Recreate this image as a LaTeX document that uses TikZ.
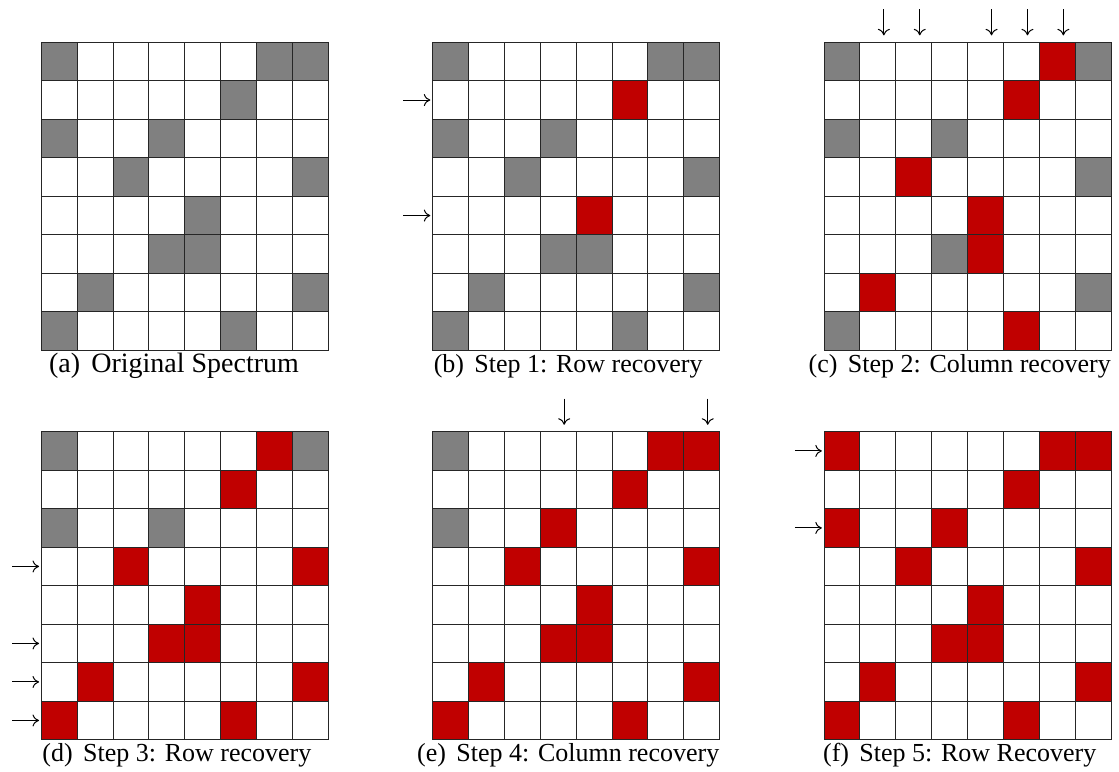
\documentclass[tikz,border=0pt]{standalone}
\usepackage{fontspec}
\setmainfont{Liberation Serif}
\usetikzlibrary{arrows.meta}
\definecolor{cellgray}{RGB}{128,128,128}
\definecolor{cellred}{RGB}{192,0,0}
\tikzset{
  gridline/.style={line width=1pt, draw=black!85, line cap=rect},
  graycell/.style={fill=cellgray},
  redcell/.style={fill=cellred},
  marker/.style={line width=1pt, -{Computer Modern Rightarrow[length=6.5pt,width=12pt]}},
  caption/.style={anchor=base, font=\fontsize{26}{30}\selectfont, inner sep=0pt},
  bigcaption/.style={anchor=base, font=\fontsize{28}{32}\selectfont, inner sep=0pt},
  gridscope/.style={x=35.9pt, y=-38.5pt},
}
\newcommand\cells[2]{\foreach \cc/\rr in {#2} {\fill[#1] (\cc,\rr) rectangle ++(1,1);}}
\newcommand\gridlines{\foreach \ii in {0,...,8} {\draw[gridline] (\ii,0) -- (\ii,8); \draw[gridline] (0,\ii) -- (8,\ii);}}
\newcommand\rowarrow[2]{\coordinate (#1s) at (-0.81,#2+0.5); \coordinate (#1e) at (-0.06,#2+0.5); \draw[marker] (#1s) -- (#1e);}
\newcommand\colarrow[2]{\coordinate (#1s) at (#2+0.667,-0.86); \coordinate (#1e) at (#2+0.667,-0.18); \draw[marker] (#1s) -- (#1e);}
\begin{document}
\begin{tikzpicture}[x=1pt,y=-1pt]
\useasboundingbox (0,0) rectangle (1119,771);
\fill[white] (0,0) rectangle (1119,771);

% (a)
\begin{scope}[shift={(41.2pt,-42.3pt)}, gridscope]
  \cells{graycell}{0/0,6/0,7/0,5/1,0/2,3/2,2/3,7/3,4/4,3/5,4/5,1/6,7/6,0/7,5/7}
  \gridlines
  \node[bigcaption] (capa) at (3.7,8.57) {(a)\hspace{0.4em}Original Spectrum};
\end{scope}

% (b)
\begin{scope}[shift={(432.5pt,-42.3pt)}, gridscope]
  \cells{graycell}{0/0,6/0,7/0,0/2,3/2,2/3,7/3,3/5,4/5,1/6,7/6,0/7,5/7}
  \cells{redcell}{5/1,4/4}
  \gridlines
  \rowarrow{bR1}{1}
  \rowarrow{bR4}{4}
  \node[caption] (capb) at (3.78,8.57) {(b)\hspace{0.4em}Step 1: Row recovery};
\end{scope}

% (c)
\begin{scope}[shift={(824pt,-42.3pt)}, gridscope]
  \cells{graycell}{0/0,7/0,0/2,3/2,7/3,3/5,7/6,0/7}
  \cells{redcell}{6/0,5/1,2/3,4/4,4/5,1/6,5/7}
  \gridlines
  \colarrow{cC1}{1}
  \colarrow{cC2}{2}
  \colarrow{cC4}{4}
  \colarrow{cC5}{5}
  \colarrow{cC6}{6}
  \node[caption] (capc) at (3.78,8.57) {(c)\hspace{0.4em}Step 2: Column recovery};
\end{scope}

% (d)
\begin{scope}[shift={(41.2pt,-431.7pt)}, gridscope]
  \cells{graycell}{0/0,7/0,0/2,3/2}
  \cells{redcell}{6/0,5/1,2/3,7/3,4/4,3/5,4/5,1/6,7/6,0/7,5/7}
  \gridlines
  \rowarrow{dR3}{3}
  \rowarrow{dR5}{5}
  \rowarrow{dR6}{6}
  \rowarrow{dR7}{7}
  \node[caption] (capd) at (3.78,8.57) {(d)\hspace{0.4em}Step 3: Row recovery};
\end{scope}

% (e)
\begin{scope}[shift={(432.5pt,-431.7pt)}, gridscope]
  \cells{graycell}{0/0,0/2}
  \cells{redcell}{6/0,7/0,5/1,3/2,2/3,7/3,4/4,3/5,4/5,1/6,7/6,0/7,5/7}
  \gridlines
  \colarrow{eC3}{3}
  \colarrow{eC7}{7}
  \node[caption] (cape) at (3.78,8.57) {(e)\hspace{0.4em}Step 4: Column recovery};
\end{scope}

% (f)
\begin{scope}[shift={(824pt,-431.7pt)}, gridscope]
  \cells{redcell}{0/0,6/0,7/0,5/1,0/2,3/2,2/3,7/3,4/4,3/5,4/5,1/6,7/6,0/7,5/7}
  \gridlines
  \rowarrow{fR0}{0}
  \rowarrow{fR2}{2}
  \node[caption] (capf) at (3.78,8.57) {(f)\hspace{0.4em}Step 5: Row Recovery};
\end{scope}
\end{tikzpicture}
\end{document}
